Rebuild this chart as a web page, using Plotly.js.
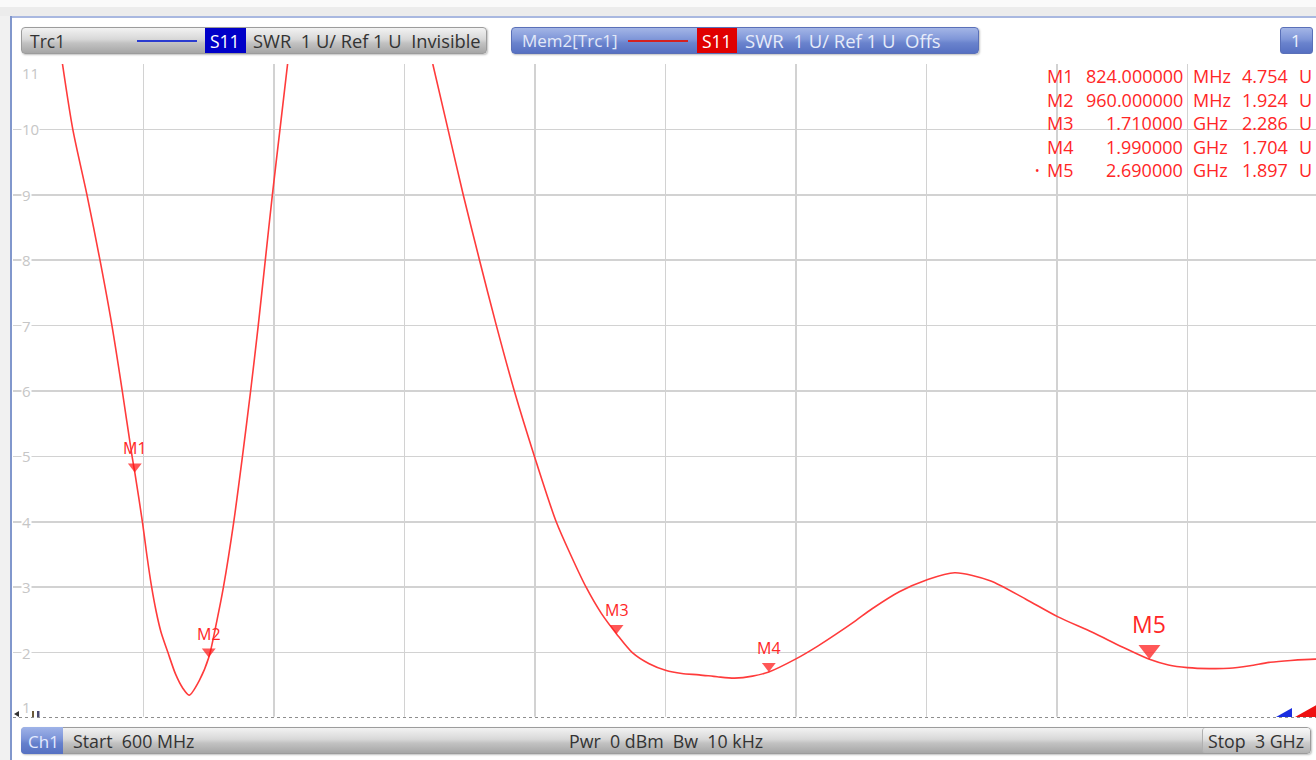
<!DOCTYPE html>
<html><head><meta charset="utf-8">
<script src="https://cdn.plot.ly/plotly-3.0.1.min.js"></script>
<style>
html,body{margin:0;padding:0;background:#fff;overflow:hidden;width:1316px;height:760px;}
#wrap{position:relative;width:1316px;height:760px;overflow:hidden;background:#fff;}
.c{position:absolute;box-sizing:border-box;z-index:1;}
#plot{position:absolute;left:0;top:0;width:1320px;height:760px;z-index:2;}
</style></head><body>
<div id="wrap">
  <div class="c" style="left:0;top:0;width:1316px;height:7px;background:#fafafa;"></div>
  <div class="c" style="left:0;top:7px;width:1316px;height:9px;background:#ececec;"></div>
  <div class="c" style="left:0;top:16px;width:10px;height:744px;background:#f1f1f1;"></div>
  <div class="c" style="left:10px;top:16px;width:1306px;height:2px;background:#a9b8e0;"></div>
  <div class="c" style="left:10px;top:16px;width:2px;height:744px;background:#8197cc;"></div>
  <!-- trace 1 header -->
  <div class="c" style="left:21px;top:27px;width:466px;height:27px;border-radius:4px;border:1px solid #9c9c9c;background:linear-gradient(#f2f2f2,#d8d8d8 45%,#c2c2c2 60%,#a6a6a6);box-shadow:1px 1px 2px rgba(0,0,0,0.25);"></div>
  <div class="c" style="left:137px;top:40px;width:60px;height:2px;background:#2a3bd0;"></div>
  <div class="c" style="left:205px;top:28px;width:41px;height:25px;background:#0000c8;"></div>
  <!-- mem header -->
  <div class="c" style="left:511px;top:27px;width:468px;height:27px;border-radius:4px;border:1px solid #5a70b8;background:linear-gradient(#a3b5e6,#7f96d8 45%,#6a83cd 60%,#5670c2);box-shadow:1px 1px 2px rgba(0,0,0,0.25);"></div>
  <div class="c" style="left:628px;top:40px;width:60px;height:2px;background:#d42020;"></div>
  <div class="c" style="left:697px;top:28px;width:40px;height:25px;background:#e00000;"></div>
  <div class="c" style="left:1280px;top:27px;width:33px;height:27px;border-radius:3px;border:1px solid #5a70b8;background:linear-gradient(#a3b5e6,#7f96d8 45%,#6a83cd 60%,#5670c2);"></div>
  <!-- bottom bar -->
  <div class="c" style="left:21px;top:727px;width:1290px;height:27px;border-radius:4px;border:1px solid #9c9c9c;background:linear-gradient(#f2f2f2,#d8d8d8 45%,#c2c2c2 60%,#a6a6a6);box-shadow:1px 1px 2px rgba(0,0,0,0.25);"></div>
  <div class="c" style="left:1202px;top:728px;width:108px;height:25px;border-radius:3px;border-left:1px solid #b0b0b0;background:linear-gradient(#f8f8f8,#e0e0e0 45%,#cbcbcb 60%,#b2b2b2);"></div>
  <div class="c" style="left:21px;top:727px;width:42px;height:27px;border-radius:4px 0 0 4px;background:linear-gradient(#9fb3e8,#7b93d8 45%,#6580cc 60%,#5570c2);"></div>
  <div id="plot"></div>
</div>
<script>
// ---------- data ----------
const freqMHz = [691, 710, 736, 760, 782, 801, 819, 824, 838, 846, 855, 863, 872, 885, 899, 912, 924, 943, 960, 975, 987, 1006, 1022, 1037, 1051, 1064, 1077, 1091, 1105,
                 1240,
                 1372, 1400, 1428, 1458, 1489, 1522, 1559, 1599, 1627, 1654, 1682, 1710, 1739, 1770, 1800, 1830, 1862, 1895, 1927, 1960, 1990, 2039, 2080, 2115, 2150, 2180, 2230, 2280, 2332, 2397, 2462, 2521, 2585, 2639, 2690, 2725, 2760, 2800, 2837, 2875, 2910, 2950, 2995, 3000];
const swr     = [11.0, 10.0, 9.0, 8.0, 7.0, 6.0, 5.0, 4.754, 4.0, 3.5, 3.0, 2.64, 2.32, 2.0, 1.67, 1.46, 1.35, 1.58, 1.924, 2.49, 3.0, 4.0, 5.0, 6.0, 7.0, 8.0, 9.0, 10.0, 11.0,
                 null,
                 11.0, 10.0, 9.0, 8.0, 7.0, 6.0, 5.0, 4.0, 3.47, 3.0, 2.6, 2.286, 2.0, 1.83, 1.73, 1.68, 1.66, 1.63, 1.61, 1.64, 1.704, 1.90, 2.10, 2.29, 2.49, 2.67, 2.93, 3.11, 3.22, 3.10, 2.82, 2.55, 2.31, 2.09, 1.897, 1.81, 1.77, 1.755, 1.76, 1.80, 1.85, 1.88, 1.90, 1.90];

const markerNames   = ['M1', 'M2', 'M3', 'M4', 'M5'];
const markerFreqMHz = [824, 960, 1710, 1990, 2690];
const markerSwr     = [4.754, 1.924, 2.286, 1.704, 1.897];
const activeMarker  = 'M5';

const yTickVals = [1, 2, 3, 4, 5, 6, 7, 8, 9, 10, 11];
const yTickText = ['1', '2', '3', '4', '5', '6', '7', '8', '9', '10', '11'];

const startMHz = 600, stopMHz = 3000, divMHz = 240;

const trcName = 'Trc1';
const memName = 'Mem2[Trc1]';
const paramName = 'S11';
const trcInfo = 'SWR\u00a0\u00a01 U/ Ref 1 U\u00a0\u00a0Invisible';
const memInfo = 'SWR\u00a0\u00a01 U/ Ref 1 U\u00a0\u00a0Offs';
const winNumber = '1';
const chName = 'Ch1';
const startText = 'Start\u00a0\u00a0600 MHz';
const midText = 'Pwr\u00a0\u00a00 dBm\u00a0\u00a0Bw\u00a0\u00a010 kHz';
const stopText = 'Stop\u00a0\u00a03 GHz';

// ---------- geometry helpers ----------
const W = 1320, H = 760, ML = 13, MR = 2, MT = 64, MB = 42;
const PW = W - ML - MR, PH = H - MT - MB;
const px = x => (x - ML) / PW;
const py = y => (H - MB - y) / PH;
const pxPerUnit = PH / (yTickVals[yTickVals.length - 1] - yTickVals[0]);
const FONT = 'Open Sans, Noto Sans, sans-serif';
const RED = '#ff2626';

const ann = (text, x, y, o = {}) => Object.assign({
  text: text, x: px(x), y: py(y), xref: 'paper', yref: 'paper', showarrow: false,
  xanchor: 'left', yanchor: 'middle', font: {family: FONT, size: 17, color: '#333'}
}, o);

const annotations = [];
// header texts
annotations.push(ann(trcName, 28, 41, {font: {family: FONT, size: 17.5, color: '#333'}}));
annotations.push(ann(paramName, 225.5, 41, {xanchor: 'center', font: {family: FONT, size: 17.5, color: '#ffffff'}}));
annotations.push(ann(trcInfo, 251, 41, {font: {family: FONT, size: 18.3, color: '#333'}}));
annotations.push(ann(memName, 520, 41, {font: {family: FONT, size: 17, color: '#e2e8f8'}}));
annotations.push(ann(paramName, 717, 41, {xanchor: 'center', font: {family: FONT, size: 17.5, color: '#ffffff'}}));
annotations.push(ann(memInfo, 743, 41, {font: {family: FONT, size: 18.5, color: '#e6ebf9'}}));
annotations.push(ann(winNumber, 1296, 41, {xanchor: 'center', font: {family: FONT, size: 17, color: '#eef2fc'}}));
// bottom bar
annotations.push(ann(chName, 43, 741, {xanchor: 'center', font: {family: FONT, size: 17, color: '#e3eaff'}}));
annotations.push(ann(startText, 71, 741, {font: {family: FONT, size: 17.8, color: '#333'}}));
annotations.push(ann(midText, 666, 741, {xanchor: 'center', font: {family: FONT, size: 17.8, color: '#333'}}));
annotations.push(ann(stopText, 1306, 741, {xanchor: 'right', font: {family: FONT, size: 17.8, color: '#333'}}));

// y tick labels (inside, white background)
yTickVals.forEach((v, i) => {
  let ys = 0;
  if (i === yTickVals.length - 1) ys = -9;
  if (i === 0) ys = 11;
  annotations.push({
    text: yTickText[i], x: px(21), xref: 'paper', y: v, yref: 'y', yshift: ys,
    xanchor: 'left', yanchor: 'middle', showarrow: false, bgcolor: i === 0 ? 'rgba(0,0,0,0)' : '#ffffff', borderpad: 0,
    font: {family: FONT, size: 15, color: '#c6c6c6'}
  });
});

// marker table
const rowY0 = 76, rowDY = 23.6;
markerNames.forEach((m, i) => {
  const f = markerFreqMHz[i];
  const fTxt = f < 1000 ? f.toFixed(6) : (f / 1000).toFixed(6);
  const unit = f < 1000 ? 'MHz' : 'GHz';
  const y = rowY0 + i * rowDY;
  const fnt = {family: FONT, size: 18, color: RED};
  if (m === activeMarker) annotations.push(ann('•', 1033, y, {font: {family: FONT, size: 12, color: RED}}));
  annotations.push(ann(m, 1045, y, {font: fnt}));
  annotations.push(ann(fTxt, 1185, y, {xanchor: 'right', font: fnt}));
  annotations.push(ann(unit, 1191, y, {font: fnt}));
  annotations.push(ann(markerSwr[i].toFixed(3), 1290, y, {xanchor: 'right', font: fnt}));
  annotations.push(ann('U', 1297, y, {font: fnt}));
});

// marker labels on the trace
const mSize = markerNames.map(m => m === activeMarker ? 19 : 12);
markerNames.forEach((m, i) => {
  const big = m === activeMarker;
  annotations.push({
    text: m, x: markerFreqMHz[i], y: markerSwr[i], xref: 'x', yref: 'y',
    xanchor: 'center', yanchor: 'bottom', yshift: big ? 18 : 12, showarrow: false, borderpad: 0,
    font: {family: FONT, size: big ? 23 : 16, color: RED}
  });
});

const traces = [
  {x: freqMHz, y: swr, type: 'scatter', mode: 'lines', connectgaps: false,
   line: {color: '#ff3b3b', width: 1.6, shape: 'spline', smoothing: 0.8}, hoverinfo: 'skip'},
  {x: markerFreqMHz, y: markerSwr.map((v, i) => v + (mSize[i] / 2) / pxPerUnit), type: 'scatter', mode: 'markers',
   marker: {symbol: 'triangle-down', size: mSize, color: '#ff1010', line: {width: 0}}, hoverinfo: 'skip'}
];

const tri = (pts, color) => ({type: 'path', xref: 'paper', yref: 'paper', layer: 'above',
  path: 'M' + pts.map(p => px(p[0]) + ',' + py(p[1])).join(' L') + ' Z', fillcolor: color, line: {width: 0}});

const shapes = [
  {type: 'line', xref: 'paper', x0: 0, x1: 1, yref: 'y', y0: 1, y1: 1, line: {color: '#ffffff', width: 2.5}, layer: 'above'},
  {type: 'line', xref: 'paper', x0: 0, x1: 1, yref: 'y', y0: 1, y1: 1, line: {color: '#6a6a6a', width: 1.6, dash: 'dot'}, layer: 'above'},
  tri([[1276, 717], [1292, 717], [1292, 708]], '#1a2ee0'),
  tri([[1295, 717], [1320, 717], [1320, 703]], '#ee1010'),
  tri([[14, 714], [19, 711], [19, 717]], '#333'),
  {type: 'rect', xref: 'paper', yref: 'paper', x0: px(32), x1: px(34), y0: py(717), y1: py(711), fillcolor: '#6b5a3a', line: {width: 0}, layer: 'above'},
  {type: 'rect', xref: 'paper', yref: 'paper', x0: px(37), x1: px(39.5), y0: py(717), y1: py(711), fillcolor: '#4a4a70', line: {width: 0}, layer: 'above'}
];

const layout = {
  width: W, height: H, margin: {l: ML, r: MR, t: MT, b: MB, pad: 0},
  paper_bgcolor: 'rgba(0,0,0,0)', plot_bgcolor: '#ffffff', showlegend: false,
  xaxis: {range: [startMHz, stopMHz], tick0: startMHz, dtick: divMHz, showgrid: true, gridcolor: '#d2d2d2', gridwidth: 1.5,
          showticklabels: false, zeroline: false, showline: false, ticks: ''},
  yaxis: {range: [yTickVals[0], yTickVals[yTickVals.length - 1]], tick0: 1, dtick: 1, showgrid: true, gridcolor: '#d2d2d2', gridwidth: 1.5,
          showticklabels: false, zeroline: false, showline: false, ticks: ''},
  annotations: annotations, shapes: shapes
};

Plotly.newPlot('plot', traces, layout, {staticPlot: true, displayModeBar: false});
</script>
</body></html>
